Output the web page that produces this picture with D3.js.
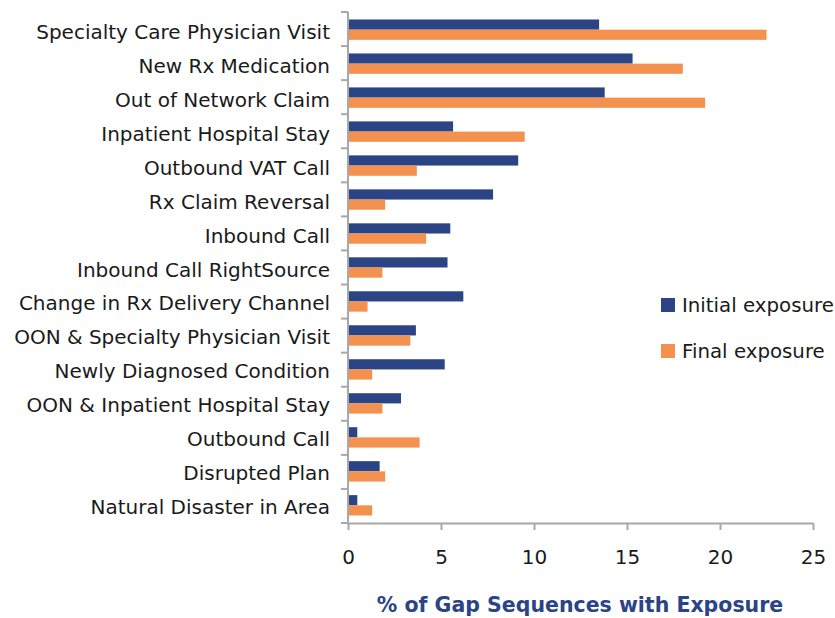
<!DOCTYPE html>
<html>
<head>
<meta charset="utf-8">
<script src="https://cdn.jsdelivr.net/npm/d3@7"></script>
<style>
  body { margin: 0; background: #fff; }
  svg { font-family: "DejaVu Sans", Verdana, sans-serif; }
</style>
</head>
<body>
<svg id="chart" width="835" height="618"></svg>
<script>
// datos
var categories = [
  "Specialty Care Physician Visit",
  "New Rx Medication",
  "Out of Network Claim",
  "Inpatient Hospital Stay",
  "Outbound VAT Call",
  "Rx Claim Reversal",
  "Inbound Call",
  "Inbound Call RightSource",
  "Change in Rx Delivery Channel",
  "OON & Specialty Physician Visit",
  "Newly Diagnosed Condition",
  "OON & Inpatient Hospital Stay",
  "Outbound Call",
  "Disrupted Plan",
  "Natural Disaster in Area"
];
var initialExposure = [13.5, 15.3, 13.8, 5.65, 9.15, 7.8, 5.5, 5.35, 6.2, 3.65, 5.2, 2.85, 0.5, 1.7, 0.5];
var finalExposure   = [22.5, 18.0, 19.2, 9.5, 3.7, 2.0, 4.2, 1.85, 1.05, 3.35, 1.3, 1.85, 3.85, 2.0, 1.3];
var seriesNames = ["Initial exposure", "Final exposure"];
var xTicks = [0, 5, 10, 15, 20, 25];

var colors = ["#2a4486", "#f5914f"];
var axisColor = "#a8a8a8";

var svg = d3.select("#chart");
var plotLeft = 348, plotRight = 813, plotTop = 12, plotBottom = 523;

var x = d3.scaleLinear().domain([0, 25]).range([plotLeft, plotRight]);
var y = d3.scaleBand().domain(categories).range([plotTop, plotBottom]).paddingInner(0.4).paddingOuter(0.22);
var inner = d3.scaleBand().domain(seriesNames).range([0, y.bandwidth()]);

var rows = categories.map(function(c, i) {
  return { cat: c, vals: [initialExposure[i], finalExposure[i]] };
});

// barras
var g = svg.append("g");
rows.forEach(function(r) {
  seriesNames.forEach(function(s, j) {
    g.append("rect")
      .attr("x", x(0))
      .attr("y", y(r.cat) + inner(s))
      .attr("width", x(r.vals[j]) - x(0))
      .attr("height", inner.bandwidth())
      .attr("fill", colors[j]);
  });
});

// eje y: linea y marcas entre categorias
var step = (plotBottom - plotTop) / categories.length;
svg.append("line")
  .attr("x1", plotLeft).attr("x2", plotLeft)
  .attr("y1", plotTop).attr("y2", plotBottom)
  .attr("stroke", axisColor).attr("stroke-width", 2);
d3.range(categories.length + 1).forEach(function(i) {
  svg.append("line")
    .attr("x1", plotLeft - 7).attr("x2", plotLeft)
    .attr("y1", plotTop + i * step).attr("y2", plotTop + i * step)
    .attr("stroke", axisColor).attr("stroke-width", 2);
});
svg.selectAll(".ylab")
  .data(categories)
  .enter().append("text")
  .attr("class", "ylab")
  .attr("x", 330)
  .attr("y", function(d) { return y(d) + y.bandwidth() / 2 + 2; })
  .attr("dy", "0.35em")
  .attr("text-anchor", "end")
  .attr("font-size", 20)
  .attr("fill", "#1a1a1a")
  .text(function(d) { return d; });

// eje x
var xAxis = svg.append("g")
  .attr("transform", "translate(0," + plotBottom + ")")
  .call(d3.axisBottom(x).tickValues(xTicks).tickSize(7).tickPadding(20).tickSizeOuter(0));
xAxis.select(".domain").attr("stroke", axisColor).attr("stroke-width", 2);
xAxis.selectAll(".tick line").attr("stroke", axisColor).attr("stroke-width", 2);
xAxis.selectAll(".tick text")
  .attr("font-size", 20)
  .attr("font-family", "DejaVu Sans, Verdana, sans-serif")
  .attr("fill", "#1a1a1a");

// titulo del eje
svg.append("text")
  .attr("x", 580)
  .attr("y", 612)
  .attr("text-anchor", "middle")
  .attr("font-size", 20.5)
  .attr("font-weight", "bold")
  .attr("fill", "#2a4486")
  .text("% of Gap Sequences with Exposure");

// leyenda
var legend = svg.append("g");
seriesNames.forEach(function(s, i) {
  var ly = 305 + i * 46;
  legend.append("rect")
    .attr("x", 661).attr("y", ly - 7)
    .attr("width", 14).attr("height", 14)
    .attr("fill", colors[i]);
  legend.append("text")
    .attr("x", 682).attr("y", ly)
    .attr("dy", "0.35em")
    .attr("font-size", 19.8)
    .attr("fill", "#1a1a1a")
    .text(s);
});
</script>
</body>
</html>
